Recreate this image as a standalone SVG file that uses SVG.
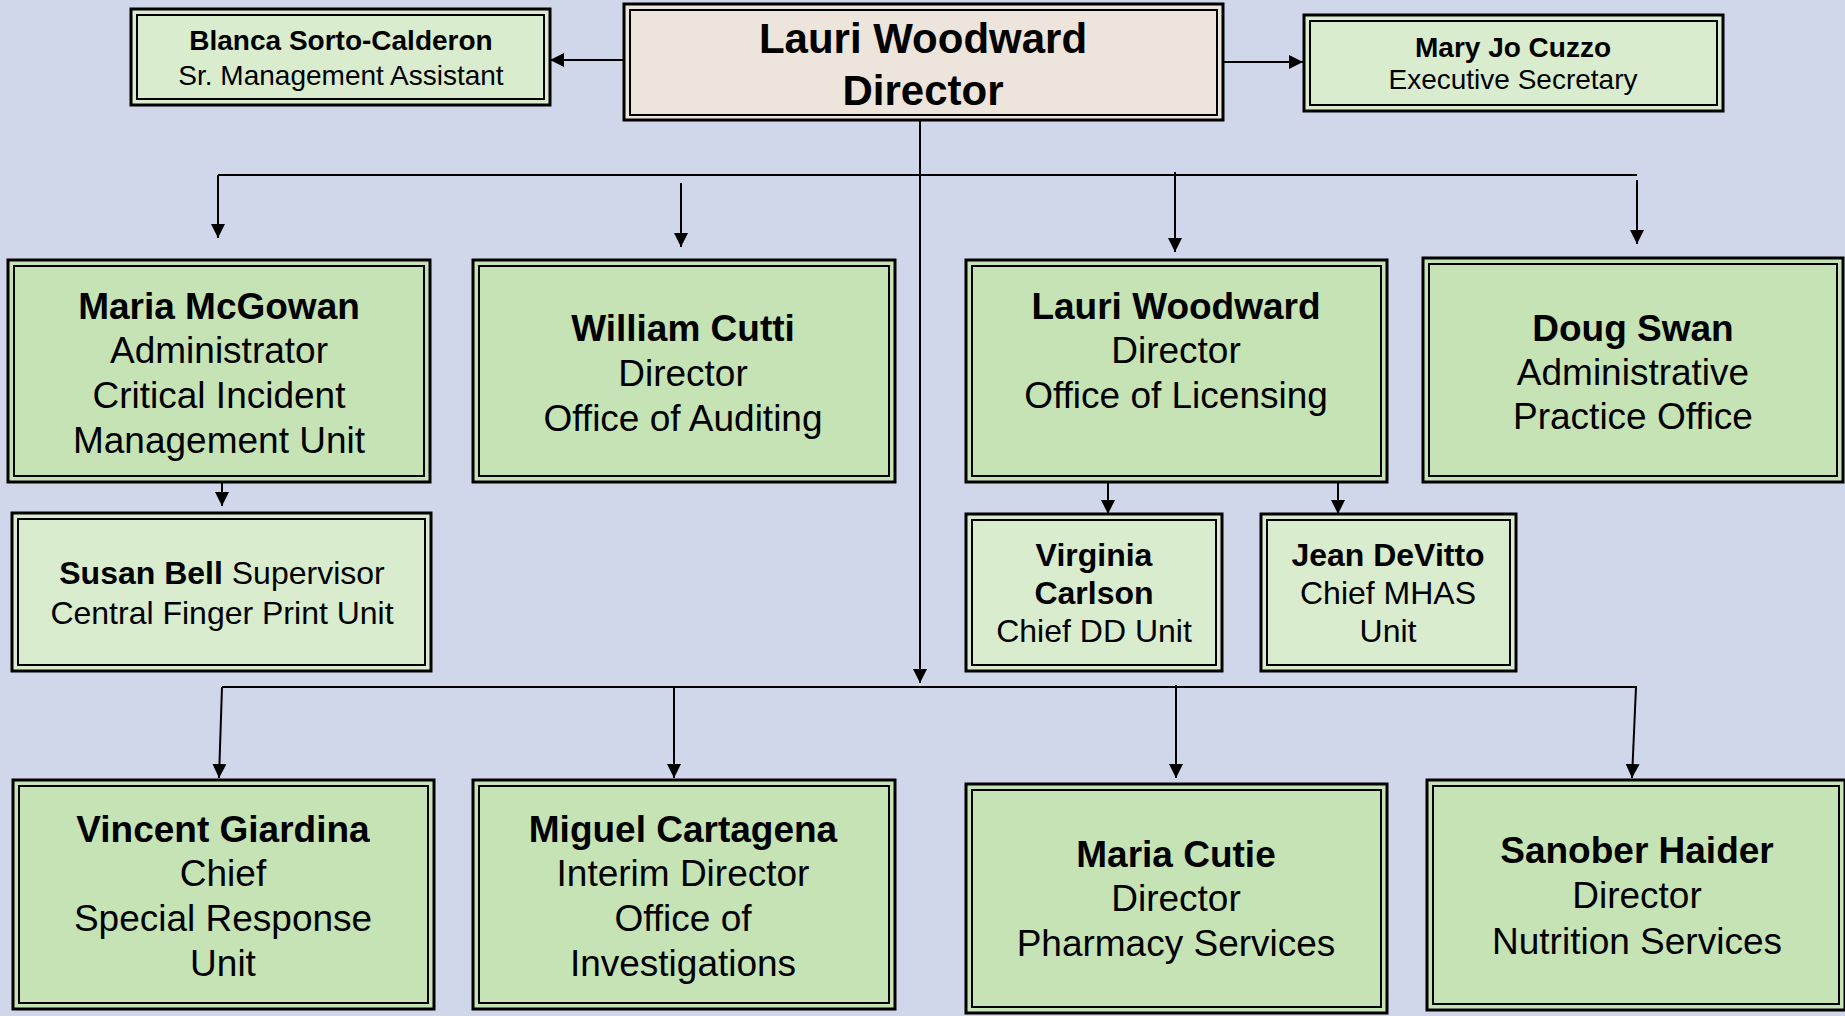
<svg xmlns="http://www.w3.org/2000/svg" width="1845" height="1016" viewBox="0 0 1845 1016">
<style>
.o{stroke:#000;stroke-width:3}
.i{stroke:#000;stroke-width:2;fill:none}
.g{fill:#c5e3b4}
.l{fill:#d9ecce}
.b{fill:#ede4db}
text{font-family:"Liberation Sans",Arial,sans-serif;fill:#000;text-anchor:middle}
.t37{font-size:37px}
.t32{font-size:32px}
.t28{font-size:28px}
.t42{font-size:42px;font-weight:bold}
.bd{font-weight:bold}
.c{stroke:#000;stroke-width:2;fill:none}
.a{marker-end:url(#ah)}
</style>
<defs>
<marker id="ah" markerUnits="userSpaceOnUse" markerWidth="15" markerHeight="15" refX="14" refY="7" orient="auto">
<path d="M0,0 L14,7 L0,14 z" fill="#000"/>
</marker>
</defs>
<rect width="1845" height="1016" fill="#d0d7ea"/>
<g id="connectors">
<path class="c a" d="M624,60 H550"/>
<path class="c a" d="M1223,62 H1303"/>
<path class="c a" d="M920,120 V683"/>
<path class="c" d="M218,175 H1637"/>
<path class="c a" d="M218,175 V238"/>
<path class="c a" d="M681,183 V247"/>
<path class="c a" d="M1175,172 V252"/>
<path class="c a" d="M1637,180 V244"/>
<path class="c a" d="M222,482 V506"/>
<path class="c a" d="M1108,482 V514"/>
<path class="c a" d="M1338,482 V514"/>
<path class="c" d="M222,687 H1637"/>
<path class="c a" d="M222,687 L219,778"/>
<path class="c a" d="M674,687 V778"/>
<path class="c a" d="M1176,685 V778"/>
<path class="c a" d="M1636,687 L1632,778"/>
</g>
<g id="blanca">
<rect class="o l" x="131" y="9" width="419" height="96"/>
<rect class="i" x="137" y="15" width="407" height="84"/>
<text class="t28 bd" x="341" y="50">Blanca Sorto-Calderon</text>
<text class="t28" x="341" y="85">Sr. Management Assistant</text>
</g>
<g id="lauri-director">
<rect class="o b" x="624" y="4" width="599" height="116"/>
<rect class="i" x="630" y="10" width="587" height="105"/>
<text class="t42" x="923" y="53">Lauri Woodward</text>
<text class="t42" x="923" y="105">Director</text>
</g>
<g id="maryjo">
<rect class="o l" x="1304" y="15" width="419" height="96"/>
<rect class="i" x="1310" y="21" width="407" height="84"/>
<text class="t28 bd" x="1513" y="57">Mary Jo Cuzzo</text>
<text class="t28" x="1513" y="89">Executive Secretary</text>
</g>
<g id="mcgowan">
<rect class="o g" x="8" y="260" width="422" height="222"/>
<rect class="i" x="14" y="266" width="410" height="210"/>
<text class="t37 bd" x="219" y="319">Maria McGowan</text>
<text class="t37" x="219" y="363">Administrator</text>
<text class="t37" x="219" y="408">Critical Incident</text>
<text class="t37" x="219" y="453">Management Unit</text>
</g>
<g id="cutti">
<rect class="o g" x="473" y="260" width="422" height="222"/>
<rect class="i" x="479" y="266" width="410" height="210"/>
<text class="t37 bd" x="683" y="341">William Cutti</text>
<text class="t37" x="683" y="386">Director</text>
<text class="t37" x="683" y="431">Office of Auditing</text>
</g>
<g id="lauri-licensing">
<rect class="o g" x="966" y="260" width="421" height="222"/>
<rect class="i" x="972" y="266" width="409" height="210"/>
<text class="t37 bd" x="1176" y="319">Lauri Woodward</text>
<text class="t37" x="1176" y="363">Director</text>
<text class="t37" x="1176" y="408">Office of Licensing</text>
</g>
<g id="swan">
<rect class="o g" x="1423" y="258" width="420" height="224"/>
<rect class="i" x="1429" y="264" width="408" height="212"/>
<text class="t37 bd" x="1633" y="341">Doug Swan</text>
<text class="t37" x="1633" y="385">Administrative</text>
<text class="t37" x="1633" y="429">Practice Office</text>
</g>
<g id="bell">
<rect class="o l" x="12" y="513" width="419" height="158"/>
<rect class="i" x="18" y="519" width="407" height="146"/>
<text class="t32" x="222" y="584"><tspan class="bd">Susan Bell</tspan> Supervisor</text>
<text class="t32" x="222" y="624">Central Finger Print Unit</text>
</g>
<g id="carlson">
<rect class="o l" x="966" y="514" width="256" height="157"/>
<rect class="i" x="972" y="520" width="244" height="145"/>
<text class="t32 bd" x="1094" y="566">Virginia</text>
<text class="t32 bd" x="1094" y="604">Carlson</text>
<text class="t32" x="1094" y="642">Chief DD Unit</text>
</g>
<g id="devitto">
<rect class="o l" x="1261" y="514" width="255" height="157"/>
<rect class="i" x="1267" y="520" width="243" height="145"/>
<text class="t32 bd" x="1388" y="566">Jean DeVitto</text>
<text class="t32" x="1388" y="604">Chief MHAS</text>
<text class="t32" x="1388" y="642">Unit</text>
</g>
<g id="giardina">
<rect class="o g" x="13" y="780" width="421" height="229"/>
<rect class="i" x="19" y="786" width="409" height="217"/>
<text class="t37 bd" x="223" y="842">Vincent Giardina</text>
<text class="t37" x="223" y="886">Chief</text>
<text class="t37" x="223" y="931">Special Response</text>
<text class="t37" x="223" y="976">Unit</text>
</g>
<g id="cartagena">
<rect class="o g" x="473" y="780" width="422" height="229"/>
<rect class="i" x="479" y="786" width="410" height="217"/>
<text class="t37 bd" x="683" y="842">Miguel Cartagena</text>
<text class="t37" x="683" y="886">Interim Director</text>
<text class="t37" x="683" y="931">Office of</text>
<text class="t37" x="683" y="976">Investigations</text>
</g>
<g id="cutie">
<rect class="o g" x="966" y="784" width="421" height="229"/>
<rect class="i" x="972" y="790" width="409" height="217"/>
<text class="t37 bd" x="1176" y="867">Maria Cutie</text>
<text class="t37" x="1176" y="911">Director</text>
<text class="t37" x="1176" y="956">Pharmacy Services</text>
</g>
<g id="haider">
<rect class="o g" x="1427" y="780" width="418" height="230"/>
<rect class="i" x="1433" y="786" width="406" height="218"/>
<text class="t37 bd" x="1637" y="863">Sanober Haider</text>
<text class="t37" x="1637" y="908">Director</text>
<text class="t37" x="1637" y="954">Nutrition Services</text>
</g>
</svg>
